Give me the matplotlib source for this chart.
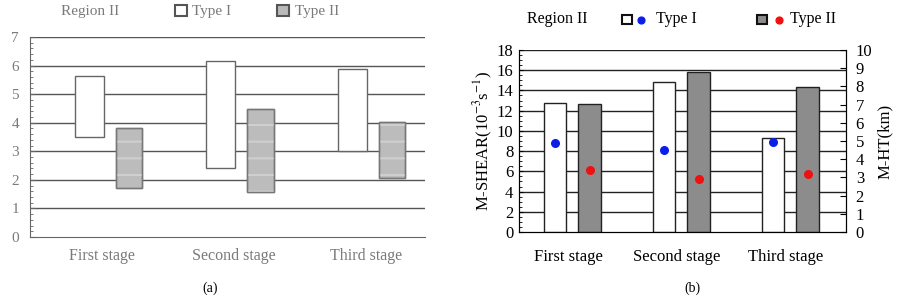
import matplotlib
matplotlib.use("Agg")
import matplotlib.pyplot as plt
import numpy as np
from matplotlib.patches import Rectangle
from matplotlib.ticker import MultipleLocator

plt.rcParams['font.family'] = ['Liberation Serif', 'DejaVu Serif']
plt.rcParams['mathtext.fontset'] = 'stix'
plt.rcParams['hatch.linewidth'] = 1.5

stages = ["First stage", "Second stage", "Third stage"]

# (a) floating ranges
type1_low = [3.5, 2.4, 3.0]
type1_high = [5.62, 6.15, 5.87]
type2_low = [1.7, 1.58, 2.05]
type2_high = [3.8, 4.48, 4.02]

# (b) bars (left axis) and dots (right axis)
shear_type1 = [12.8, 14.8, 9.3]
shear_type2 = [12.65, 15.8, 14.3]
ht_type1 = [4.87, 4.53, 4.95]
ht_type2 = [3.43, 2.9, 3.21]

W, H = 912, 296
fig = plt.figure(figsize=(W / 100, H / 100), dpi=100)

grey = '#7a7a7a'
x = np.arange(len(stages))

# ---------------- panel (a) ----------------
ax1 = fig.add_axes([30 / W, 1 - 237 / H, 395 / W, 200 / H])
lo1 = np.array(type1_low); hi1 = np.array(type1_high)
lo2 = np.array(type2_low); hi2 = np.array(type2_high)
ax1.bar(x - 0.1, hi1 - lo1, bottom=lo1, width=0.22, color='white',
        edgecolor='#666666', linewidth=1, zorder=3)
ax1.bar(x + 0.2, hi2 - lo2, bottom=lo2, width=0.2, color='#bcbcbc',
        edgecolor='#777777', linewidth=1, zorder=3)
ax1.bar(x + 0.2, hi2 - lo2, bottom=lo2, width=0.2, color='none',
        edgecolor='#cfcfcf', linewidth=0, hatch='-', zorder=4)
ax1.bar(x + 0.2, hi2 - lo2, bottom=lo2, width=0.2, color='none',
        edgecolor='#777777', linewidth=1, zorder=5)
ax1.set_xlim(-0.55, 2.45)
ax1.set_ylim(0, 7)
ax1.set_yticks(range(0, 8))
ax1.yaxis.set_minor_locator(MultipleLocator(0.2))
for yv in range(1, 8):
    ax1.axhline(yv, color='#555555', lw=1, zorder=1)
ax1.set_xticks(x)
ax1.set_xticklabels(stages, fontsize=11.5, color=grey)
ax1.tick_params(axis='x', length=0, pad=8)
ax1.tick_params(axis='y', which='both', direction='in', colors='#666666',
                labelcolor=grey, labelsize=11)
ax1.tick_params(axis='y', which='minor', length=2.5)
ax1.tick_params(axis='y', which='major', length=3.5, pad=8)
for s in ['top', 'right']:
    ax1.spines[s].set_visible(False)
for s in ['left', 'bottom']:
    ax1.spines[s].set_color('#666666')

fig.text(90 / W, 1 - 11 / H, "Region II", ha='center', va='center',
         fontsize=11, color=grey)
fig.patches.append(Rectangle((175 / W, 1 - 16 / H), 12 / W, 11 / H,
                             transform=fig.transFigure, facecolor='white',
                             edgecolor='#555555', lw=1.5))
fig.text(192 / W, 1 - 11 / H, "Type I", ha='left', va='center',
         fontsize=11, color=grey)
fig.patches.append(Rectangle((277 / W, 1 - 16 / H), 12 / W, 11 / H,
                             transform=fig.transFigure, facecolor='#b9b9b9',
                             edgecolor='#555555', lw=1.5))
fig.text(295 / W, 1 - 11 / H, "Type II", ha='left', va='center',
         fontsize=11, color=grey)
fig.text(210 / W, 1 - 288 / H, "(a)", ha='center', va='center', fontsize=10)

# ---------------- panel (b) ----------------
ax = fig.add_axes([519 / W, 1 - 232 / H, 327 / W, 182 / H])
ax.bar(x - 0.12, shear_type1, width=0.21, color='white', edgecolor='#222222',
       linewidth=1, zorder=3)
ax.bar(x + 0.2, shear_type2, width=0.21, color='#8c8c8c', edgecolor='#222222',
       linewidth=1, zorder=3)
ax.set_xlim(-0.45, 2.55)
ax.set_ylim(0, 18)
ax.set_yticks(range(0, 19, 2))
ax.yaxis.set_minor_locator(MultipleLocator(0.5))
for yv in range(2, 19, 2):
    ax.axhline(yv, color='#222222', lw=1, zorder=1)
ax.set_xticks(x)
ax.set_xticklabels(stages, fontsize=12)
ax.tick_params(axis='x', length=0, pad=12)
ax.tick_params(axis='y', which='both', direction='in', labelsize=12)
ax.tick_params(axis='y', which='minor', length=2)
ax.tick_params(axis='y', which='major', length=3, pad=4)
ax.spines['top'].set_visible(False)
ax.set_ylabel(r"M-SHEAR(10$^{-3}$s$^{-1}$)", fontsize=12, labelpad=1)

ax2 = ax.twinx()
ax2.scatter(x - 0.12, ht_type1, s=30, color='#0b1ee8', zorder=5)
ax2.scatter(x + 0.2, ht_type2, s=30, color='#ee1111', zorder=5)
ax2.set_ylim(0, 10)
ax2.set_yticks(range(0, 11))
ax2.tick_params(axis='y', direction='in', length=4, labelsize=12, pad=7)
ax2.spines['top'].set_visible(False)
ax2.set_ylabel("M-HT(km)", fontsize=12, labelpad=3)

fig.text(557 / W, 1 - 19 / H, "Region II", ha='center', va='center', fontsize=11.5)
fig.patches.append(Rectangle((622 / W, 1 - 24 / H), 10 / W, 9 / H,
                             transform=fig.transFigure, facecolor='white',
                             edgecolor='#111111', lw=1.5))
ax.scatter([641 / W], [1 - 19.5 / H], s=24, color='#0b1ee8',
           transform=fig.transFigure, clip_on=False)
fig.text(656 / W, 1 - 19 / H, "Type I", ha='left', va='center', fontsize=11.5)
fig.patches.append(Rectangle((757 / W, 1 - 24 / H), 10 / W, 9 / H,
                             transform=fig.transFigure, facecolor='#8c8c8c',
                             edgecolor='#111111', lw=1.5))
ax.scatter([779 / W], [1 - 19.5 / H], s=24, color='#ee1111',
           transform=fig.transFigure, clip_on=False)
fig.text(790 / W, 1 - 19 / H, "Type II", ha='left', va='center', fontsize=11.5)
fig.text(692 / W, 1 - 288 / H, "(b)", ha='center', va='center', fontsize=10)

fig.savefig("out.png", dpi=100)
